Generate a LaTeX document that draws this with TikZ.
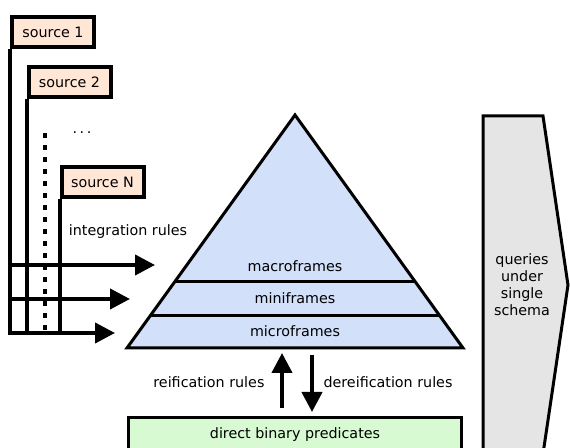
\documentclass[tikz,border=0pt]{standalone}
\usepackage{fontspec}
\setmainfont{DejaVu Sans}
\usetikzlibrary{arrows.meta,calc}
\definecolor{srcfill}{HTML}{FFE6D5}
\definecolor{framefill}{HTML}{D3E0FA}
\definecolor{predfill}{HTML}{D7FAD2}
\definecolor{queryfill}{HTML}{E5E5E5}

\begin{document}
\begin{tikzpicture}[x=1pt, y=1pt, font=\fontsize{14.3}{17}\selectfont,
		source/.style={draw, line width=4pt, fill=srcfill, minimum width=82pt, minimum height=30pt, inner sep=0pt},
		feed/.style={line width=4pt},
		flow/.style={line width=4pt, -{Triangle[length=20pt, width=20pt]}},
		layer/.style={line width=3pt}]
			\useasboundingbox (0,0) rectangle (570,447);

			% Queries on the right
			\draw[layer, fill=queryfill] (483,-10) -- (483,331) -- (543,331) -- (568,162) -- (543,-7) -- (483,-7);
			\node[align=center] (queries) at (522,162) {queries\\under\\single\\schema};

			% Sources
			\node[source] (src1) at (53,415) {source 1};
			\node[source] (src2) at (69.5,365) {source 2};
			\node[source] (srcN) at (102.5,265) {source N};
			\node[anchor=base] (more) at (82,313) {.\hspace{2.5pt}.\hspace{2.5pt}.};

			% Lines down from each source
			\coordinate (in1) at (155,182);
			\coordinate (in2) at (130,148);
			\coordinate (in3) at (115,114);
			\draw[feed] (src2.south west) -- (src2.south west |- in3);
			\draw[feed] (srcN.south west) -- (srcN.south west |- in3);
			\draw[feed, line width=4.5pt, dash pattern=on 5pt off 7pt] (45,314) -- (45,114);

			% Integration arrows into the pyramid
			\draw[flow] (src1.south west) |- (in3);
			\draw[flow] ([xshift=-2pt]in1 -| src1.south west) -- (in1);
			\draw[flow] ([xshift=-2pt]in2 -| src1.south west) -- (in2);
			\node (intrules) at (128,215) {integration rules};

			% Pyramid of frames
			\coordinate (apex) at (295,332);
			\coordinate (bl) at (127,99);
			\coordinate (br) at (463,99);
			\coordinate (base) at (295,99);
			\draw[layer, fill=framefill] (bl) -- (apex) -- (br) -- cycle;
			\foreach \t in {0.1416,0.2833}
			\draw[layer] ($(bl)!\t!(apex)$) -- ($(br)!\t!(apex)$);
			\node (macro) at (295,181) {macroframes};
			\node (mini) at (295,149) {miniframes};
			\node (micro) at (295,116) {microframes};

			% Binary predicates below
			\node[draw, layer, fill=predfill, minimum width=333pt, minimum height=34pt, anchor=north] (preds) at (295,30.5) {direct binary predicates};

			% Reification and dereification
			\draw[flow] ([shift={(-13,8.5)}]preds.north) -- ([shift={(-13,-5)}]base);
			\draw[flow] ([shift={(17,-7)}]base) -- ([shift={(17,4.5)}]preds.north);
			\node[anchor=east] (reif) at (268,65) {reification rules};
			\node[anchor=west] (dereif) at (320,65) {dereification rules};
		\end{tikzpicture}
\end{document}
